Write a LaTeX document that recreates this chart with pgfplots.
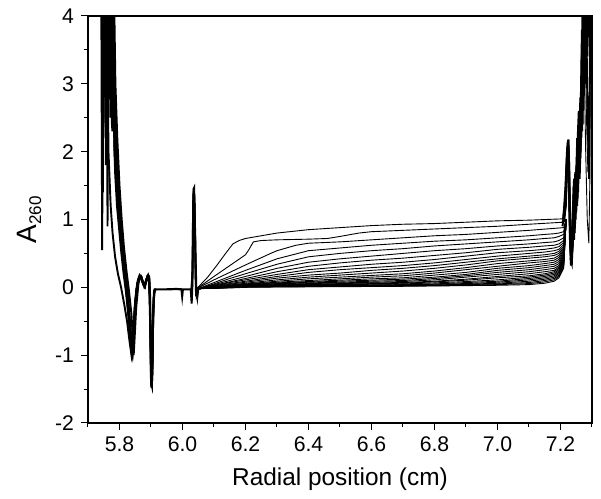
\documentclass[border=0pt]{standalone}
\usepackage{fontspec}
\setmainfont{Liberation Sans}
\usepackage{pgfplots}
\usepackage{pgfplotstable}
\pgfplotsset{compat=1.18}

% later scans: radial grid in x, one column per scan
\pgfplotstableread{
x     c4   c5   c6   c7   c8   c9   c10   c11   c12   c13   c14   c15   c16   c17   c18   c19   c20   c21   c22   c23   c24   c25   c26
6.05  -0.02 -0.02 -0.02 -0.02 -0.02 -0.02 -0.02 -0.02 -0.02 -0.02 -0.02 -0.02 -0.02 -0.02 -0.02 -0.02 -0.02 -0.02 -0.02 -0.02 -0.02 -0.02 -0.02
6.1   0.07 0.05 0.04 0.03 0.02 0.02 0.01 0.005 0.0 0.0 -0.005 -0.005 -0.01 -0.01 -0.01 -0.01 -0.01 -0.01 -0.01 -0.01 -0.01 -0.01 -0.015
6.15  0.16 0.13 0.10 0.08 0.07 0.055 0.045 0.035 0.03 0.025 0.02 0.015 0.01 0.01 0.005 0.005 0.0 0.0 0.0 0.0 0.0 -0.005 -0.01
6.2   0.25 0.20 0.16 0.13 0.11 0.09 0.075 0.06 0.05 0.045 0.04 0.035 0.03 0.025 0.02 0.018 0.015 0.012 0.01 0.008 0.006 0.005 0.0
6.3   0.42 0.34 0.28 0.23 0.19 0.16 0.135 0.11 0.09 0.075 0.065 0.055 0.05 0.04 0.035 0.03 0.025 0.02 0.015 0.012 0.01 0.008 0.005
6.4   0.54 0.45 0.37 0.31 0.26 0.22 0.18 0.15 0.125 0.10 0.085 0.075 0.065 0.055 0.045 0.04 0.03 0.025 0.02 0.015 0.012 0.01 0.008
6.5   0.58 0.50 0.42 0.36 0.30 0.26 0.21 0.18 0.15 0.125 0.105 0.09 0.075 0.065 0.055 0.045 0.04 0.03 0.025 0.02 0.016 0.013 0.01
6.6   0.62 0.54 0.46 0.40 0.34 0.29 0.25 0.21 0.175 0.15 0.125 0.105 0.09 0.075 0.065 0.055 0.045 0.035 0.03 0.025 0.02 0.016 0.012
6.7   0.65 0.57 0.50 0.43 0.37 0.32 0.28 0.24 0.20 0.17 0.14 0.12 0.10 0.085 0.07 0.06 0.05 0.04 0.035 0.03 0.025 0.02 0.015
6.8   0.68 0.61 0.54 0.47 0.41 0.36 0.32 0.28 0.24 0.21 0.18 0.15 0.13 0.11 0.09 0.08 0.065 0.05 0.045 0.035 0.03 0.025 0.02
6.9   0.70 0.64 0.57 0.51 0.46 0.41 0.37 0.33 0.29 0.26 0.22 0.19 0.17 0.15 0.12 0.105 0.085 0.07 0.055 0.045 0.04 0.03 0.025
7.0   0.73 0.67 0.61 0.56 0.51 0.46 0.42 0.39 0.35 0.31 0.28 0.25 0.22 0.19 0.16 0.14 0.11 0.09 0.075 0.06 0.05 0.04 0.03
7.1   0.76 0.70 0.64 0.59 0.54 0.50 0.46 0.43 0.39 0.36 0.32 0.29 0.26 0.23 0.20 0.17 0.15 0.13 0.11 0.09 0.07 0.055 0.04
7.15  0.78 0.72 0.66 0.61 0.56 0.52 0.48 0.45 0.41 0.38 0.35 0.32 0.29 0.26 0.23 0.20 0.18 0.16 0.14 0.12 0.10 0.08 0.06
7.18  0.79 0.73 0.67 0.62 0.58 0.54 0.50 0.47 0.43 0.40 0.37 0.34 0.31 0.28 0.25 0.23 0.21 0.19 0.17 0.15 0.13 0.11 0.09
7.195 0.80 0.75 0.69 0.64 0.60 0.56 0.53 0.50 0.47 0.44 0.41 0.38 0.35 0.32 0.30 0.28 0.26 0.24 0.22 0.20 0.18 0.16 0.14
7.21  0.82 0.78 0.73 0.69 0.66 0.63 0.60 0.58 0.56 0.54 0.52 0.50 0.48 0.46 0.44 0.42 0.40 0.38 0.36 0.34 0.32 0.30 0.28
7.218 1.0 1.0 1.0 1.0 1.0 1.0 1.0 1.0 1.0 1.0 1.0 1.0 1.0 1.0 1.0 1.0 1.0 1.0 1.0 1.0 1.0 1.0 1.0
}\fantab

\begin{document}
\begin{tikzpicture}
\begin{axis}[
  scale only axis, width=252pt, height=203.5pt,
  xmin=5.7, xmax=7.3, ymin=-2, ymax=4,
  xtick={5.8,6.0,6.2,6.4,6.6,6.8,7.0,7.2},
  minor xtick={5.7,5.9,6.1,6.3,6.5,6.7,6.9,7.1,7.3},
  ytick={-2,-1,0,1,2,3,4},
  minor ytick={-1.5,-0.5,0.5,1.5,2.5,3.5},
  tick align=outside, tick pos=left,
  major tick length=3.5pt, minor tick length=2pt,
  tick style={black, line width=0.5pt},
  axis line style={line width=0.6pt},
  /pgf/number format/assume math mode=true,
  xticklabel style={/pgf/number format/fixed, /pgf/number format/fixed zerofill, /pgf/number format/precision=1},
  ticklabel style={font=\fontsize{10.6}{12}\selectfont},
  xlabel={Radial position (cm)},
  ylabel={\fontsize{14}{16}\selectfont A\textsubscript{\fontsize{8.5}{10}\selectfont 260}},
  label style={font=\fontsize{12.2}{14}\selectfont},
  xlabel style={yshift=-1pt},
  fan/.style={black, line width=0.45pt},
  noisy/.style={black, line width=0.95pt},
]
% first three scans, with their plateaus
\addplot[fan] coordinates {(6.045,-0.02)(6.08,0.15)(6.11,0.33)(6.14,0.52)(6.16,0.64)(6.18,0.69)(6.2,0.72)(6.25,0.76)(6.3,0.80)(6.4,0.85)(6.5,0.88)(6.6,0.91)(6.7,0.93)(6.8,0.94)(6.9,0.96)(7.0,0.98)(7.1,0.99)(7.21,1.01)(7.218,1.0)};
\addplot[fan] coordinates {(6.045,-0.02)(6.1,0.16)(6.15,0.32)(6.2,0.48)(6.21,0.55)(6.225,0.67)(6.25,0.69)(6.3,0.70)(6.4,0.71)(6.46,0.72)(6.5,0.75)(6.56,0.80)(6.6,0.82)(6.7,0.84)(6.8,0.86)(6.9,0.88)(7.0,0.90)(7.1,0.93)(7.21,0.96)(7.218,1.0)};
\addplot[fan] coordinates {(6.045,-0.02)(6.1,0.11)(6.2,0.33)(6.28,0.50)(6.3,0.54)(6.33,0.58)(6.36,0.62)(6.4,0.65)(6.5,0.67)(6.6,0.70)(6.7,0.73)(6.8,0.76)(6.9,0.78)(7.0,0.81)(7.1,0.84)(7.21,0.88)(7.218,1.0)};
\pgfplotsinvokeforeach{4,...,26}{
  \addplot[fan] table[x=x, y=c#1] {\fantab};
}
% baseline and meniscus
\addplot[black, line width=1.1pt] coordinates {(5.912,-0.03)(5.95,-0.03)(5.98,-0.025)(5.997,-0.03)(5.999,-0.12)(6.001,-0.03)(6.02,-0.03)(6.027,-0.03)};
\addplot[noisy] coordinates {(6.026,-0.03)(6.029,-0.24)(6.031,-0.05)(6.033,0.9)(6.035,1.45)(6.037,1.47)(6.039,1.1)(6.041,0.3)(6.043,-0.12)(6.046,-0.14)(6.049,-0.02)(6.052,0.0)};
\addplot[noisy] coordinates {(6.027,-0.03)(6.030,-0.1)(6.033,0.5)(6.036,1.4)(6.038,1.3)(6.041,0.6)(6.044,-0.05)(6.047,-0.15)(6.050,-0.01)};
\addplot[noisy] coordinates {(6.028,-0.03)(6.032,0.2)(6.034,1.3)(6.036,1.46)(6.039,1.0)(6.042,0.1)(6.045,-0.12)(6.048,-0.08)(6.051,0.0)};
% inner edge of the cell
\addplot[noisy] coordinates {(5.744,4.6)(5.747,1.4)(5.750,4.6)(5.756,4.6)(5.760,2.8)(5.764,4.6)(5.770,4.6)(5.774,3.0)(5.779,3.6)(5.784,2.0)(5.790,1.5)(5.797,1.1)(5.803,0.75)(5.810,0.40)(5.818,0.10)(5.826,-0.25)(5.834,-0.65)(5.840,-1.03)(5.845,-0.65)(5.851,-0.2)(5.857,0.05)(5.863,0.16)(5.868,0.17)(5.873,0.10)(5.878,0.02)(5.883,0.08)(5.888,0.16)(5.893,0.15)(5.897,-0.2)(5.900,-1.3)(5.902,-1.48)(5.904,-1.2)(5.907,-0.3)(5.911,-0.04)(5.915,-0.03)};
\addplot[noisy] coordinates {(5.746,4.6)(5.749,2.2)(5.753,4.6)(5.758,3.3)(5.762,4.6)(5.767,4.6)(5.771,2.5)(5.776,4.6)(5.782,3.2)(5.788,2.2)(5.794,1.6)(5.800,1.15)(5.807,0.7)(5.814,0.35)(5.821,0.05)(5.829,-0.35)(5.836,-0.8)(5.841,-1.0)(5.846,-0.5)(5.852,-0.1)(5.858,0.1)(5.864,0.18)(5.870,0.14)(5.876,0.03)(5.881,0.0)(5.886,0.12)(5.891,0.18)(5.895,0.12)(5.898,-0.6)(5.901,-1.45)(5.903,-1.4)(5.906,-0.6)(5.910,-0.05)(5.915,-0.03)};
\addplot[noisy] coordinates {(5.742,4.6)(5.745,0.55)(5.748,4.6)(5.753,4.6)(5.757,1.8)(5.761,4.6)(5.768,4.6)(5.773,3.4)(5.777,2.3)(5.781,2.6)(5.786,1.7)(5.792,1.2)(5.799,0.85)(5.806,0.5)(5.813,0.2)(5.820,-0.05)(5.828,-0.4)(5.835,-0.75)(5.839,-0.98)(5.843,-0.8)(5.848,-0.35)(5.855,0.0)(5.861,0.13)(5.866,0.16)(5.872,0.08)(5.879,0.04)(5.884,0.10)(5.890,0.17)(5.894,0.14)(5.899,-0.9)(5.901,-1.47)(5.904,-1.35)(5.906,-0.5)(5.909,-0.08)(5.915,-0.03)};
\addplot[noisy] coordinates {(5.750,4.6)(5.753,2.8)(5.757,4.6)(5.763,4.6)(5.766,3.2)(5.770,4.6)(5.776,4.6)(5.780,2.6)(5.785,3.0)(5.790,2.0)(5.797,1.4)(5.804,1.0)(5.811,0.6)(5.818,0.25)(5.826,-0.1)(5.832,-0.45)(5.838,-0.85)(5.842,-0.95)(5.847,-0.55)(5.853,-0.1)(5.859,0.08)(5.865,0.15)(5.870,0.15)(5.875,0.05)(5.880,0.02)(5.885,0.09)(5.890,0.16)(5.894,0.16)(5.897,-0.3)(5.900,-1.4)(5.903,-1.46)(5.905,-1.0)(5.908,-0.2)(5.912,-0.03)(5.915,-0.03)};
\addplot[noisy] coordinates {(5.747,4.6)(5.751,3.5)(5.755,4.6)(5.759,4.6)(5.762,0.9)(5.765,4.6)(5.772,4.6)(5.776,2.4)(5.780,4.0)(5.784,2.5)(5.789,1.8)(5.795,1.3)(5.801,0.95)(5.808,0.55)(5.815,0.25)(5.823,-0.1)(5.830,-0.5)(5.837,-0.9)(5.841,-1.0)(5.846,-0.6)(5.852,-0.15)(5.858,0.07)(5.864,0.17)(5.869,0.16)(5.874,0.08)(5.879,0.01)(5.884,0.07)(5.889,0.17)(5.893,0.17)(5.897,-0.1)(5.900,-1.2)(5.902,-1.45)(5.905,-1.1)(5.907,-0.4)(5.911,-0.04)(5.915,-0.03)};
\addplot[noisy] coordinates {(5.752,4.6)(5.756,2.5)(5.760,4.6)(5.768,4.6)(5.772,3.6)(5.778,4.6)(5.783,3.4)(5.788,2.6)(5.793,1.9)(5.799,1.35)(5.806,0.9)(5.813,0.5)(5.820,0.2)(5.828,-0.2)(5.835,-0.6)(5.840,-0.9)(5.844,-0.85)(5.849,-0.4)(5.856,0.02)(5.862,0.14)(5.867,0.15)(5.880,0.03)(5.891,0.16)(5.896,0.05)};
\addplot[noisy] coordinates {(5.760,4.6)(5.765,2.0)(5.772,1.2)(5.778,0.8)(5.786,0.45)(5.795,0.2)(5.805,0.0)(5.815,-0.25)(5.824,-0.5)(5.832,-0.8)(5.838,-1.0)(5.843,-0.8)(5.848,-0.3)(5.856,0.05)(5.864,0.15)};
\addplot[noisy] coordinates {(5.782,4.6)(5.787,3.0)(5.793,2.2)(5.800,1.5)(5.807,1.0)(5.814,0.6)(5.822,0.25)(5.830,-0.05)(5.838,-0.4)(5.843,-0.8)(5.845,-1.0)(5.848,-0.75)(5.853,-0.3)(5.860,0.05)(5.866,0.17)};
% cell bottom
\addplot[noisy] coordinates {(7.205,0.95)(7.212,1.0)(7.218,1.4)(7.222,2.0)(7.225,2.18)(7.228,1.7)(7.231,0.8)(7.233,0.32)(7.237,0.5)(7.241,1.1)(7.245,0.8)(7.249,1.5)(7.253,1.2)(7.257,2.0)(7.261,1.6)(7.265,2.8)(7.269,2.3)(7.273,4.6)(7.278,3.0)(7.283,4.6)(7.290,4.6)(7.3,4.6)};
\addplot[noisy] coordinates {(7.206,0.9)(7.213,1.05)(7.217,1.2)(7.221,1.8)(7.224,2.1)(7.227,1.9)(7.230,1.0)(7.233,0.4)(7.236,0.35)(7.240,0.8)(7.244,1.3)(7.248,1.0)(7.252,1.7)(7.256,1.4)(7.260,2.4)(7.264,2.0)(7.268,3.4)(7.272,2.6)(7.276,4.6)(7.281,3.5)(7.286,4.6)(7.3,4.6)};
\addplot[noisy] coordinates {(7.207,0.95)(7.214,1.1)(7.219,1.6)(7.223,2.15)(7.226,2.0)(7.229,1.3)(7.232,0.5)(7.235,0.45)(7.239,0.9)(7.243,0.7)(7.247,1.2)(7.251,1.8)(7.255,1.5)(7.259,2.2)(7.263,1.9)(7.267,3.0)(7.271,4.6)(7.275,3.2)(7.279,4.6)(7.284,3.8)(7.289,4.6)(7.3,4.6)};
\addplot[noisy] coordinates {(7.208,1.0)(7.215,1.3)(7.220,1.9)(7.224,2.17)(7.227,1.5)(7.230,0.7)(7.234,0.38)(7.238,0.7)(7.242,0.95)(7.246,1.4)(7.250,1.1)(7.254,1.9)(7.258,1.7)(7.262,2.6)(7.266,2.2)(7.270,3.6)(7.274,3.0)(7.278,4.6)(7.283,4.2)(7.288,4.6)(7.3,4.6)};
\addplot[noisy] coordinates {(7.209,1.0)(7.216,1.5)(7.221,2.05)(7.225,2.1)(7.228,1.2)(7.231,0.6)(7.235,0.5)(7.238,0.55)(7.242,1.2)(7.246,0.9)(7.250,1.6)(7.254,1.3)(7.258,2.1)(7.262,1.8)(7.266,2.6)(7.270,2.4)(7.274,4.0)(7.278,3.3)(7.282,4.6)(7.290,4.6)(7.297,3.0)(7.300,4.6)};
\addplot[noisy] coordinates {(7.232,0.4)(7.240,1.0)(7.247,1.7)(7.252,1.4)(7.258,2.4)(7.263,2.2)(7.268,2.9)(7.273,3.3)(7.277,4.6)(7.285,3.4)(7.292,4.6)};
\addplot[noisy] coordinates {(7.233,0.35)(7.238,1.0)(7.243,1.6)(7.248,1.3)(7.253,2.2)(7.258,1.9)(7.263,2.8)(7.268,2.5)(7.274,4.6)(7.280,3.8)(7.288,4.6)};
\addplot[noisy] coordinates {(7.236,0.6)(7.242,1.5)(7.247,1.1)(7.252,1.9)(7.258,2.6)(7.263,2.3)(7.268,3.8)(7.273,3.5)(7.280,4.6)(7.286,2.5)(7.291,1.6)(7.295,4.6)};
\addplot[fan] coordinates {(7.27,4.6)(7.28,2.0)(7.285,1.0)(7.29,0.65)(7.293,1.5)(7.296,4.6)};
\addplot[fan] coordinates {(7.275,4.6)(7.282,2.6)(7.287,1.7)(7.292,2.4)(7.297,4.6)};
\end{axis}
\path (current axis.south west) ++(-44pt,-38pt);
\path (current axis.north east) ++(4.5pt,8pt);
\end{tikzpicture}
\end{document}
